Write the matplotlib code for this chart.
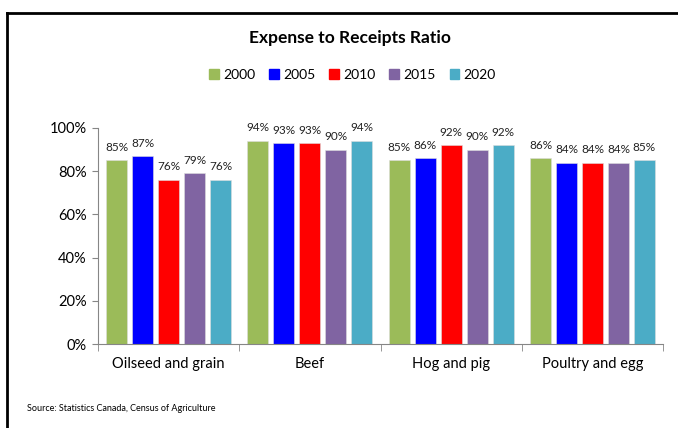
import matplotlib.pyplot as plt
from matplotlib.lines import Line2D
import numpy as np

# Ratio of farm expenses to receipts, by farm type and census year
categories = ['Oilseed and grain', 'Beef', 'Hog and pig', 'Poultry and egg']
years = ['2000', '2005', '2010', '2015', '2020']
ratios = {
    '2000': [85, 94, 85, 86],
    '2005': [87, 93, 86, 84],
    '2010': [76, 93, 92, 84],
    '2015': [79, 90, 90, 84],
    '2020': [76, 94, 92, 85],
}
colors = ['#9BBB59', '#0000FF', '#FF0000', '#8064A2', '#4BACC6']

plt.rcParams['font.family'] = ['Lato', 'DejaVu Sans']

fig = plt.figure(figsize=(6.78, 4.28), dpi=100)
ax = fig.add_axes([0.1445, 0.196, 0.8335, 0.505])

x = np.arange(len(categories))
step = 0.184
width = 0.149
for i, yr in enumerate(years):
    pos = x + (i - 2) * step
    bars = ax.bar(pos, ratios[yr], width, color=colors[i], edgecolor='#dddddd',
                  linewidth=0.4, label=yr, zorder=2)
    for b, v in zip(bars, ratios[yr]):
        ax.text(b.get_x() + b.get_width() / 2, v + 3.5, f'{v}%', ha='center', va='bottom',
                fontsize=8.5, color='#222222', clip_on=False)

ax.set_xlim(-0.5, len(categories) - 0.5)
ax.set_ylim(0, 100)
ax.set_yticks(range(0, 101, 20))
ax.set_yticklabels([f'{v}%' for v in range(0, 101, 20)], fontsize=10.5)
ax.set_xticks(x)
ax.set_xticklabels(categories, fontsize=10.5)
ax.tick_params(axis='x', length=0, pad=9)
ax.set_xticks(np.arange(-0.5, len(categories), 1), minor=True)
ax.tick_params(axis='x', which='minor', length=5, color='#868686')
ax.tick_params(axis='y', length=4, color='#868686', pad=4)

for s in ['top', 'right']:
    ax.spines[s].set_visible(False)
for s in ['left', 'bottom']:
    ax.spines[s].set_color('#868686')

fig.text(0.516, 0.911, 'Expense to Receipts Ratio', ha='center', va='center',
         fontsize=12.5, fontweight='bold')

handles = [plt.Rectangle((0, 0), 1, 1, color=c) for c in colors]
fig.legend(handles, years, loc='center', bbox_to_anchor=(0.52, 0.825), ncol=5,
           frameon=False, fontsize=10, handlelength=0.7, handleheight=0.7,
           handletextpad=0.3, columnspacing=1.0)

fig.text(0.04, 0.045, 'Source: Statistics Canada, Census of Agriculture', fontsize=6.5,
         ha='left', va='center')

# frame around the figure
fig.add_artist(Line2D([0.0103, 0.0103], [0, 0.97], color='black', lw=2))
fig.add_artist(Line2D([0.0103, 1], [0.97, 0.97], color='black', lw=2))

fig.savefig('out.png', dpi=100)
